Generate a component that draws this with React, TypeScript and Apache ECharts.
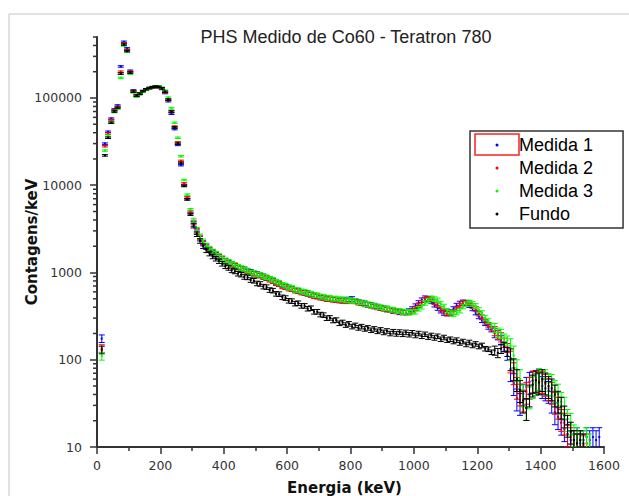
import React, { useEffect, useRef } from 'react';
import * as echarts from 'echarts';

const chartTitle = 'PHS Medido de Co60 - Teratron 780';
const xAxisName = 'Energia (keV)';
const yAxisName = 'Contagens/keV';
const seriesNames = ['Medida 1', 'Medida 2', 'Medida 3', 'Fundo'];
const seriesColors = ['#0000ff', '#ff0000', '#00ff00', '#000000'];

const yMajorTicks = [10, 100, 1000, 10000, 100000];
const yMinorTicks = [
  20, 30, 40, 50, 60, 70, 80, 90,
  200, 300, 400, 500, 600, 700, 800, 900,
  2000, 3000, 4000, 5000, 6000, 7000, 8000, 9000,
  20000, 30000, 40000, 50000, 60000, 70000, 80000, 90000,
  200000, 300000, 400000, 500000,
];

const energiesKeV = [
  15, 25, 35, 45, 55, 65, 75, 85, 95, 105,
  115, 125, 135, 145, 155, 165, 175, 185, 195, 205,
  215, 225, 235, 245, 255, 265, 275, 285, 295, 305,
  315, 325, 335, 345, 355, 365, 375, 385, 395, 405,
  415, 425, 435, 445, 455, 465, 475, 485, 495, 505,
  515, 525, 535, 545, 555, 565, 575, 585, 595, 605,
  615, 625, 635, 645, 655, 665, 675, 685, 695, 705,
  715, 725, 735, 745, 755, 765, 775, 785, 795, 805,
  815, 825, 835, 845, 855, 865, 875, 885, 895, 905,
  915, 925, 935, 945, 955, 965, 975, 985, 995, 1005,
  1015, 1025, 1035, 1045, 1055, 1065, 1075, 1085, 1095, 1105,
  1115, 1125, 1135, 1145, 1155, 1165, 1175, 1185, 1195, 1205,
  1215, 1225, 1235, 1245, 1255, 1265, 1275, 1285, 1295, 1305,
  1315, 1325, 1335, 1345, 1355, 1365, 1375, 1385, 1395, 1405,
  1415, 1425, 1435, 1445, 1455, 1465, 1475, 1485, 1495, 1505,
  1515, 1525, 1535, 1545, 1555, 1565, 1575, 1585, 1595,
];

const medida1 = [
  175, 30000, 41000, 58000, 74000, 82000, 230000, 440000, 370000, 205000,
  122000, 107000, 113000, 120000, 126000, 130000, 133000, 135000, 133000, 127000,
  114000, 92000, 66000, 44000, 29000, 17000, 10000, 6900, 4800, 3600,
  2900, 2450, 2150, 1950, 1800, 1690, 1600, 1510, 1430, 1360,
  1300, 1260, 1190, 1160, 1100, 1090, 1030, 1020, 970, 965,
  925, 905, 860, 845, 800, 775, 735, 715, 685, 675,
  645, 635, 610, 605, 585, 580, 555, 550, 530, 528,
  512, 508, 496, 500, 486, 490, 475, 485, 492, 498,
  472, 462, 446, 444, 428, 424, 408, 408, 392, 390,
  376, 375, 362, 362, 350, 354, 348, 362, 382, 412,
  448, 482, 508, 498, 468, 428, 392, 366, 344, 340,
  352, 382, 418, 442, 456, 448, 422, 388, 348, 314,
  284, 262, 238, 222, 203, 192, 168, 142, 112, 78,
  54, 36, 32, 41, 49, 56, 57, 54, 61, 50,
  47, 44, 34, 25, 22, 19, 16, 14, 12, 11,
  13, 11, 12, 13, 12, 13, 12, 13, null,
];

const medida2 = [
  135, 28000, 39000, 56000, 72000, 79000, 200000, 420000, 355000, 200000,
  120000, 106000, 112000, 119000, 125000, 129000, 132000, 134000, 133000, 128000,
  116000, 95000, 70000, 47000, 31000, 19000, 10500, 7300, 5000, 3750,
  3000, 2520, 2200, 2000, 1840, 1720, 1620, 1530, 1450, 1370,
  1310, 1240, 1200, 1140, 1110, 1055, 1040, 985, 975, 935,
  925, 885, 865, 825, 795, 755, 735, 695, 685, 655,
  645, 620, 615, 590, 585, 565, 560, 535, 535, 515,
  515, 495, 498, 486, 488, 476, 478, 468, 476, 468,
  468, 452, 448, 432, 428, 416, 412, 398, 394, 383,
  380, 370, 367, 358, 357, 348, 350, 350, 366, 388,
  422, 452, 487, 498, 492, 458, 422, 383, 357, 338,
  340, 353, 387, 418, 447, 453, 447, 413, 382, 338,
  307, 273, 252, 228, 214, 194, 182, 158, 137, 98,
  72, 49, 41, 35, 43, 49, 58, 59, 56, 57,
  53, 47, 43, 33, 29, 21, 19, 14, 13, 12,
  11, 12, 10.5, 11, null, null, null, null, null,
];

const medida3 = [
  110, 25000, 37000, 53000, 69000, 76000, 170000, 400000, 340000, 190000,
  116000, 104000, 110000, 118000, 124000, 129000, 133000, 135000, 135000, 131000,
  121000, 101000, 76000, 52000, 35000, 21500, 11500, 7800, 5300, 3950,
  3100, 2600, 2280, 2050, 1880, 1750, 1650, 1550, 1460, 1380,
  1325, 1265, 1225, 1165, 1125, 1085, 1055, 1005, 995, 955,
  945, 905, 885, 845, 825, 785, 765, 725, 705, 675,
  665, 635, 630, 605, 600, 575, 575, 550, 550, 530,
  530, 510, 515, 500, 505, 490, 495, 480, 485, 472,
  476, 456, 455, 436, 434, 418, 420, 402, 402, 388,
  390, 374, 376, 362, 364, 352, 356, 346, 356, 356,
  384, 406, 449, 476, 508, 496, 480, 436, 408, 366,
  348, 334, 348, 366, 408, 432, 454, 436, 414, 372,
  344, 302, 278, 246, 232, 206, 198, 176, 167, 136,
  112, 78, 60, 40, 28, 38, 50, 54, 62, 60,
  60, 54, 53, 45, 41, 33, 29, 21, 19, 14,
  13, 12, 12, 13, 11, null, null, null, null,
];

const fundo = [
  130, 22000, 35000, 52000, 70000, 77000, 190000, 410000, 345000, 195000,
  118000, 106000, 112000, 120000, 126000, 130000, 133000, 135000, 134000, 129000,
  118000, 96000, 70000, 46000, 30000, 18000, 9800, 6900, 4600, 3450,
  2750, 2300, 2000, 1800, 1650, 1530, 1440, 1350, 1260, 1180,
  1130, 1060, 1030, 970, 945, 890, 880, 820, 805, 750,
  740, 690, 680, 630, 620, 570, 565, 520, 510, 475,
  470, 440, 445, 415, 415, 385, 390, 355, 355, 330,
  325, 300, 302, 282, 285, 262, 268, 250, 258, 240,
  248, 232, 240, 226, 232, 218, 226, 212, 220, 206,
  214, 200, 210, 198, 208, 196, 206, 194, 204, 190,
  200, 186, 196, 182, 190, 178, 186, 172, 180, 168,
  172, 162, 168, 156, 162, 150, 158, 146, 152, 142,
  146, 134, 132, 122, 128, 120, 134, 140, 124, 104,
  80, 60, 45, 34, 28, 40, 52, 58, 55, 60,
  55, 50, 47, 40, 34, 29, 23, 18, 15, 12,
  11, 12, 11, null, null, null, null, null, null,
];

// relative (fractional) error-bar half-heights read per energy band
const errBandEdgesKeV = [0, 20, 300, 1000, 1250, 1300, 1600];
const relErrPerBand = [0.1, 0.02, 0.06, 0.06, 0.12, 0.28];

const seriesValues = [medida1, medida2, medida3, fundo];

function relErrAt(e: number): number {
  for (let i = 0; i < relErrPerBand.length; i++) {
    if (e >= errBandEdgesKeV[i] && e < errBandEdgesKeV[i + 1]) return relErrPerBand[i];
  }
  return relErrPerBand[relErrPerBand.length - 1];
}

function buildData(values: (number | null)[]) {
  const out: number[][] = [];
  energiesKeV.forEach((e, i) => {
    const v = values[i];
    if (v !== null && v !== undefined) out.push([e, v, relErrAt(e)]);
  });
  return out;
}

function makeRenderItem(color: string) {
  return (params: any, api: any) => {
    const e = api.value(0);
    const v = api.value(1);
    const r = api.value(2);
    const c = api.coord([e, v]);
    const hi = api.coord([e, v * (1 + r)]);
    const lo = api.coord([e, v * (1 - r)]);
    const w = 3;
    const style = { stroke: color, lineWidth: 1 };
    return {
      type: 'group',
      children: [
        { type: 'line', shape: { x1: c[0], y1: hi[1], x2: c[0], y2: lo[1] }, style },
        { type: 'line', shape: { x1: c[0] - w, y1: hi[1], x2: c[0] + w, y2: hi[1] }, style },
        { type: 'line', shape: { x1: c[0] - w, y1: lo[1], x2: c[0] + w, y2: lo[1] }, style },
        { type: 'rect', shape: { x: c[0] - 1, y: c[1] - 1, width: 2, height: 2 }, style: { fill: color } },
      ],
    };
  };
}

// legend icon: a small dot centred in a 34 x 3 box
const legendDotIcon = 'path://M0,0M34,3M15.5,1.5a1.5,1.5 0 1,0 3,0a1.5,1.5 0 1,0 -3,0z';

export default function App() {
  const ref = useRef<HTMLDivElement>(null);
  useEffect(() => {
    if (!ref.current) return;
    const chart = echarts.init(ref.current, null, { renderer: 'svg' });
    const axisColor = '#333333';
    const labelFont = { fontFamily: 'DejaVu Sans', fontSize: 12.5, color: '#333333' };
    const option: any = {
      animation: false,
      backgroundColor: '#ffffff',
      title: {
        text: chartTitle,
        left: 341,
        top: 23,
        textAlign: 'center',
        textStyle: { fontFamily: 'Liberation Sans', fontSize: 18, fontWeight: 'normal', color: '#222222' },
      },
      grid: { left: 97, right: 25, top: 37, bottom: 49, containLabel: false, outerBoundsMode: 'none' },
      legend: {
        orient: 'vertical',
        left: 470,
        top: 131,
        padding: [5, 30, 5, 10],
        itemGap: 5,
        itemWidth: 34,
        itemHeight: 3,
        symbolKeepAspect: true,
        borderColor: '#333333',
        borderWidth: 1.5,
        backgroundColor: '#ffffff',
        textStyle: { fontFamily: 'Liberation Sans', fontSize: 18, color: '#000000' },
        data: seriesNames.map((n) => ({ name: n, icon: legendDotIcon })),
        selectedMode: false,
      },
      xAxis: {
        type: 'value',
        min: 0,
        max: 1600,
        interval: 200,
        name: xAxisName,
        nameLocation: 'middle',
        nameGap: 33,
        nameMoveOverlap: false,
        nameTextStyle: { fontFamily: 'DejaVu Sans', fontSize: 15, fontWeight: 'bold', color: '#111111', padding: [0, 12, 0, 0] },
        axisLine: { show: true, lineStyle: { color: axisColor, width: 2 } },
        axisTick: { show: true, length: 7, lineStyle: { color: axisColor, width: 1.5 } },
        minorTick: { show: true, splitNumber: 2, length: 4, lineStyle: { color: axisColor, width: 1.5 } },
        axisLabel: { ...labelFont, margin: 12, formatter: (v: number) => String(v) },
        splitLine: { show: false },
        minorSplitLine: { show: false },
      },
      yAxis: {
        type: 'log',
        logBase: 10,
        min: 10,
        max: 500000,
        position: 'left',
        name: yAxisName,
        nameLocation: 'middle',
        nameGap: 58,
        nameMoveOverlap: false,
        nameTextStyle: { fontFamily: 'DejaVu Sans', fontSize: 15, fontWeight: 'bold', color: '#111111' },
        axisLine: { show: true, lineStyle: { color: axisColor, width: 2 } },
        axisTick: { show: true, length: 7, customValues: yMajorTicks, lineStyle: { color: axisColor, width: 1.5 } },
        axisLabel: {
          ...labelFont,
          margin: 15,
          customValues: yMajorTicks,
          formatter: (v: number) => {
            const l = Math.log10(v);
            return Math.abs(l - Math.round(l)) < 1e-6 && v < 400000 ? String(Math.round(v)) : '';
          },
        },
        splitLine: { show: false },
      },
      series: [
        ...seriesNames.map((name, i) => ({
          type: 'custom',
          name,
          clip: true,
          dimensions: ['energy', 'value', 'relErr'],
          encode: { x: 0, y: 1 },
          itemStyle: { color: seriesColors[i] },
          renderItem: makeRenderItem(seriesColors[i]),
          data: buildData(seriesValues[i]),
        })),
        {
          type: 'custom',
          name: 'minorTicksY',
          silent: true,
          clip: false,
          encode: { x: 0, y: 1 },
          data: yMinorTicks.map((v) => [0, v]),
          renderItem: (params: any, api: any) => {
            const c = api.coord([api.value(0), api.value(1)]);
            return {
              type: 'line',
              shape: { x1: c[0] - 4, y1: c[1], x2: c[0], y2: c[1] },
              style: { stroke: axisColor, lineWidth: 1.5 },
            };
          },
        },
      ],
      graphic: [
        {
          type: 'rect',
          shape: { x: 9, y: 14, width: 700, height: 600 },
          style: { fill: 'none', stroke: '#c4c4c4', lineWidth: 1 },
          silent: true,
          z: -10,
        },
        {
          type: 'rect',
          shape: { x: 475, y: 134, width: 44, height: 21 },
          style: { fill: 'none', stroke: '#ff2020', lineWidth: 1.5 },
          silent: true,
          z: 100,
        },
      ],
    };
    chart.setOption(option);
    return () => chart.dispose();
  }, []);
  return (
    <div
      ref={ref}
      style={{ position: 'fixed', left: 0, top: 0, width: 629, height: 496, background: '#fff' }}
    />
  );
}
